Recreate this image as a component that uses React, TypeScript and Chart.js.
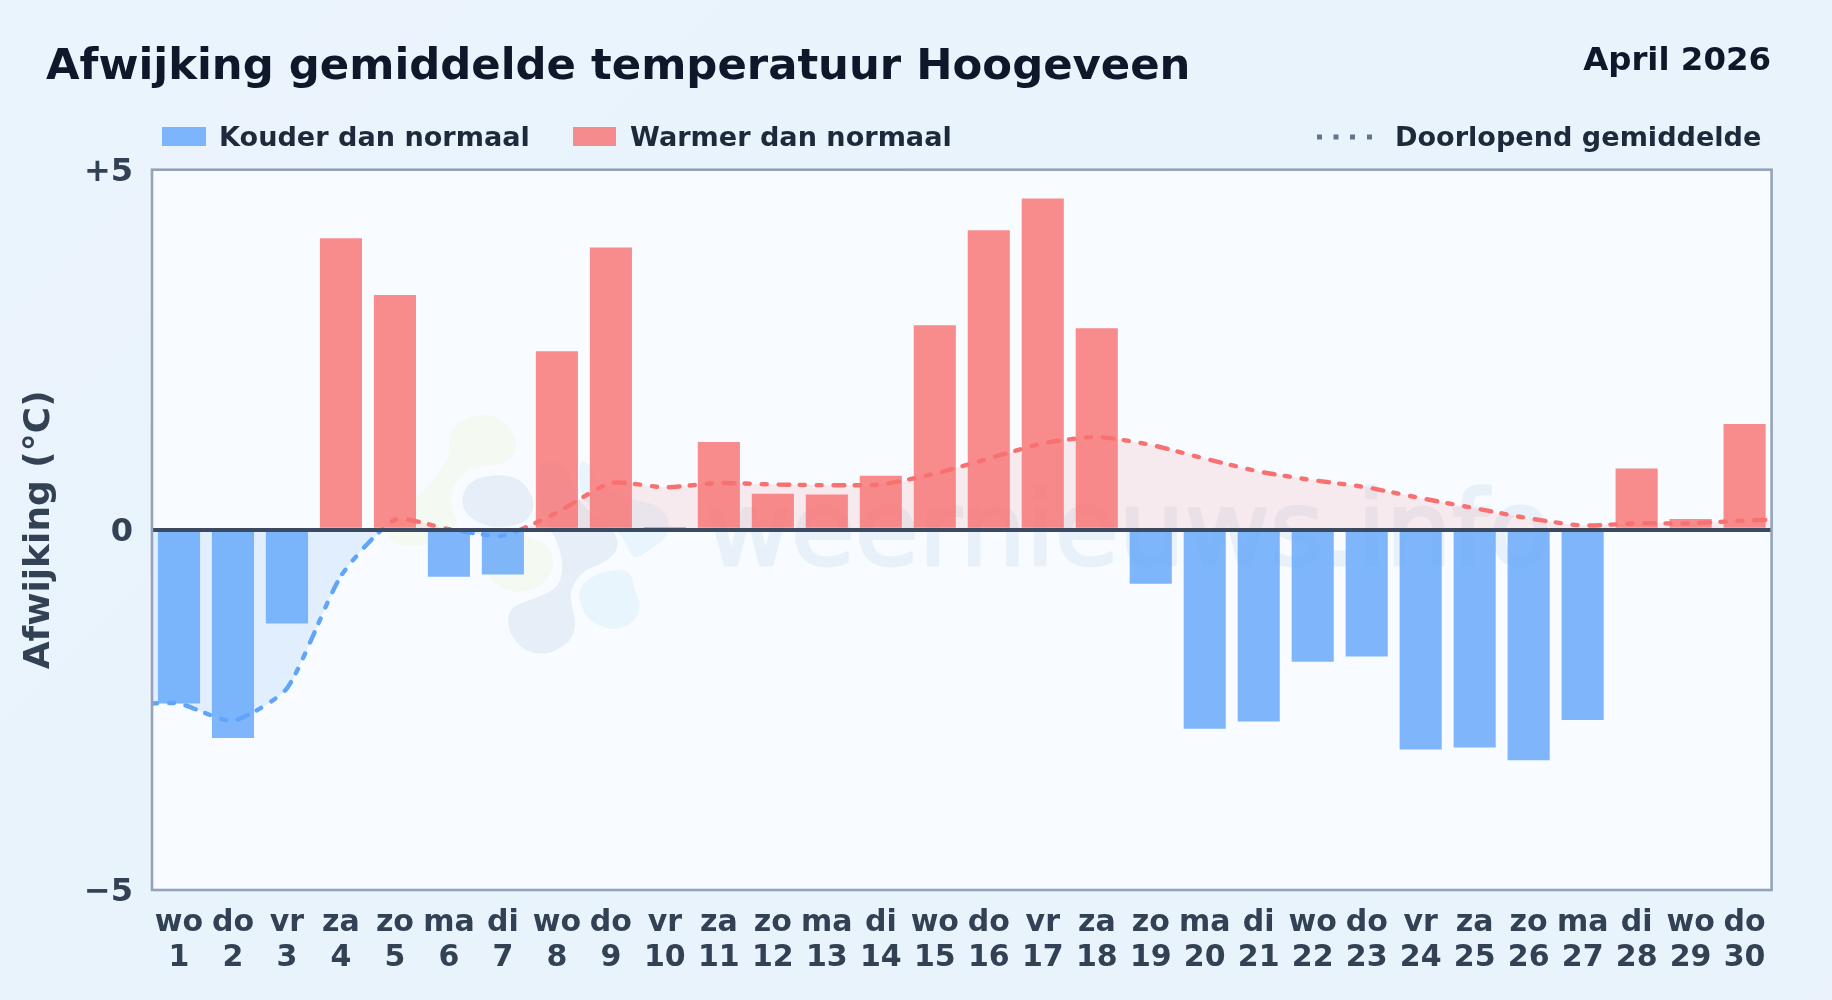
import React, { useEffect, useRef } from "react";
import { Chart, registerables } from "chart.js";

Chart.register(...registerables);

const DAYS = [1, 2, 3, 4, 5, 6, 7, 8, 9, 10, 11, 12, 13, 14, 15, 16, 17, 18, 19, 20, 21, 22, 23, 24, 25, 26, 27, 28, 29, 30];
const WEEKDAYS = ["wo", "do", "vr", "za", "zo", "ma", "di", "wo", "do", "vr", "za", "zo", "ma", "di", "wo", "do", "vr", "za", "zo", "ma", "di", "wo", "do", "vr", "za", "zo", "ma", "di", "wo", "do"];
const DEVIATION = [-2.41, -2.89, -1.3, 4.05, 3.26, -0.65, -0.62, 2.48, 3.92, 0.04, 1.22, 0.5, 0.49, 0.75, 2.84, 4.16, 4.6, 2.8, -0.75, -2.76, -2.66, -1.83, -1.76, -3.05, -3.02, -3.2, -2.64, 0.85, 0.15, 1.47];
const RUNNING_X = [0.5, 1, 2, 3, 4, 5, 6, 7, 8, 9, 10, 11, 12, 13, 14, 15, 16, 17, 18, 19, 20, 21, 22, 23, 24, 25, 26, 27, 28, 29, 30, 30.5];
const RUNNING_MEAN = [-2.41, -2.41, -2.65, -2.2, -0.64, 0.14, 0.01, -0.08, 0.24, 0.65, 0.59, 0.65, 0.63, 0.62, 0.63, 0.78, 0.99, 1.2, 1.29, 1.18, 0.99, 0.81, 0.69, 0.59, 0.44, 0.3, 0.16, 0.06, 0.09, 0.09, 0.13, 0.14];
const Y_TICKS = [-5, 0, 5];
const TITLE = "Afwijking gemiddelde temperatuur Hoogeveen";
const PERIOD = "April 2026";
const LEGEND_COLD = "Kouder dan normaal";
const LEGEND_WARM = "Warmer dan normaal";
const LEGEND_MEAN = "Doorlopend gemiddelde";
const Y_TITLE = "Afwijking (°C)";
const WATERMARK = "weernieuws.info";

const FONT = "'DejaVu Sans'";
const RED_BAR = "rgba(248,113,113,0.8)";
const BLUE_BAR = "rgba(96,165,250,0.8)";
const RED = "#F87171";
const BLUE = "#60A5FA";

const LOGO_BLOBS: [string, number[][]][] = [
  ["#F4F9F1", [[235, 90], [300, 45], [380, 45], [435, 100], [440, 160], [400, 195], [300, 200], [245, 260], [240, 320], [270, 370], [230, 395], [180, 435], [100, 440], [50, 420], [60, 370], [130, 300], [200, 230], [240, 170]]],
  ["#F4F9F1", [[440, 400], [530, 430], [555, 490], [530, 550], [460, 578], [400, 570], [350, 525], [330, 460], [380, 420]]],
  ["#E6EEF7", [[275, 290], [300, 240], [380, 222], [450, 235], [490, 290], [490, 340], [450, 375], [370, 385], [310, 360], [280, 330]]],
  ["#E9F5FD", [[625, 180], [660, 190], [690, 260], [780, 300], [860, 310], [900, 360], [895, 410], [840, 450], [790, 480], [770, 430], [740, 390], [680, 340], [630, 290]]],
  ["#E6EEF7", [[510, 180], [590, 190], [620, 300], [680, 350], [740, 400], [745, 450], [700, 490], [640, 510], [605, 560], [600, 600], [620, 670], [600, 730], [520, 768], [450, 745], [410, 680], [420, 620], [500, 595], [570, 560], [580, 490], [560, 420], [530, 370], [500, 290]]],
  ["#E9F5FD", [[625, 570], [660, 530], [740, 505], [785, 520], [790, 560], [815, 620], [790, 670], [730, 692], [670, 670], [635, 630]]],
];

function blob(ctx: CanvasRenderingContext2D, pts: number[][]) {
  const P = pts.map(([x, y]) => [370 + x / 3, 400 + y / 3]);
  const mid = (a: number[], b: number[]) => [(a[0] + b[0]) / 2, (a[1] + b[1]) / 2];
  const start = mid(P[P.length - 1], P[0]);
  ctx.beginPath();
  ctx.moveTo(start[0], start[1]);
  P.forEach((p, i) => {
    const m = mid(p, P[(i + 1) % P.length]);
    ctx.quadraticCurveTo(p[0], p[1], m[0], m[1]);
  });
  ctx.closePath();
  ctx.fill();
}

const backdrop = {
  id: "backdrop",
  beforeDraw(chart: any) {
    const { ctx, chartArea: a } = chart;
    ctx.save();
    ctx.fillStyle = "#F8FBFF";
    ctx.fillRect(a.left, a.top, a.right - a.left, a.bottom - a.top);
    LOGO_BLOBS.forEach(([color, pts]) => {
      ctx.fillStyle = color;
      blob(ctx, pts);
    });
    ctx.fillStyle = "#E8F0F9";
    ctx.strokeStyle = "#E8F0F9";
    ctx.lineWidth = 3;
    ctx.lineJoin = "round";
    ctx.font = `104px ${FONT}`;
    ctx.textAlign = "left";
    ctx.textBaseline = "alphabetic";
    ctx.strokeText(WATERMARK, 706, 565);
    ctx.fillText(WATERMARK, 706, 565);
    ctx.restore();
  },
};

const chrome = {
  id: "chrome",
  afterDraw(chart: any) {
    const { ctx, chartArea: a } = chart;
    ctx.save();
    ctx.strokeStyle = "#94A3B8";
    ctx.lineWidth = 2.6;
    ctx.strokeRect(a.left, a.top, a.right - a.left, a.bottom - a.top);

    ctx.textBaseline = "alphabetic";
    ctx.textAlign = "left";
    ctx.fillStyle = "#0F172A";
    ctx.font = `bold 43.35px ${FONT}`;
    ctx.fillText(TITLE, 46, 79);
    ctx.textAlign = "right";
    ctx.font = `bold 32.4px ${FONT}`;
    ctx.fillText(PERIOD, 1771, 70);

    ctx.textAlign = "left";
    ctx.font = `bold 27.1px ${FONT}`;
    ctx.fillStyle = BLUE_BAR;
    ctx.fillRect(162, 127, 44, 19);
    ctx.fillStyle = RED_BAR;
    ctx.fillRect(573, 127, 43, 19);
    ctx.fillStyle = "#64748B";
    [1317, 1333.5, 1350, 1367].forEach((x) => ctx.fillRect(x, 134.5, 5, 5));
    ctx.fillStyle = "#1E293B";
    ctx.fillText(LEGEND_COLD, 219, 146);
    ctx.fillText(LEGEND_WARM, 630, 146);
    ctx.fillText(LEGEND_MEAN, 1395, 146);
    ctx.restore();
  },
};

export default function App() {
  const ref = useRef<HTMLCanvasElement>(null);
  useEffect(() => {
    document.body.style.margin = "0";
    const chart = new Chart(ref.current as HTMLCanvasElement, {
      type: "bar",
      data: {
        datasets: [
          {
            type: "line",
            label: LEGEND_MEAN,
            order: 0,
            data: RUNNING_X.map((x, i) => ({ x, y: RUNNING_MEAN[i] })),
            borderColor: (c: any) => {
              const { chart: ch } = c;
              const { chartArea: a, scales } = ch;
              if (!a) return RED;
              const g = ch.ctx.createLinearGradient(0, a.top, 0, a.bottom);
              const s = (scales.y.getPixelForValue(0) - a.top) / (a.bottom - a.top);
              g.addColorStop(0, RED);
              g.addColorStop(s, RED);
              g.addColorStop(s, BLUE);
              g.addColorStop(1, BLUE);
              return g;
            },
            borderWidth: 4.4,
            borderDash: [5, 12, 5, 12, 11, 10],
            borderCapStyle: "round",
            tension: 0.2,
            pointRadius: 0,
            fill: { target: { value: 0 }, above: "rgba(248,113,113,0.12)", below: "rgba(96,165,250,0.15)" },
          },
          {
            type: "bar",
            label: "Afwijking",
            order: 1,
            data: DAYS.map((x, i) => ({ x, y: DEVIATION[i] })),
            backgroundColor: DEVIATION.map((v) => (v < 0 ? BLUE_BAR : RED_BAR)),
            barPercentage: 0.78,
            categoryPercentage: 1,
          },
        ] as any,
      },
      options: {
        animation: false,
        responsive: false,
        devicePixelRatio: 1,
        layout: { padding: { left: 0, right: 60.4, top: 169.7, bottom: 0 } },
        plugins: {
          legend: { display: false },
          tooltip: { enabled: false },
          filler: { drawTime: "beforeDatasetsDraw" },
        },
        scales: {
          x: {
            type: "linear",
            offset: false,
            min: 0.5,
            max: 30.5,
            afterBuildTicks: (s: any) => {
              s.ticks = DAYS.map((value) => ({ value }));
            },
            afterFit: (s: any) => {
              s.height = 110;
            },
            grid: { display: false },
            border: { display: false },
            ticks: {
              autoSkip: false,
              maxRotation: 0,
              minRotation: 0,
              padding: 8,
              color: "#334155",
              font: { family: FONT, size: 30, weight: "bold", lineHeight: 1.16 },
              callback: (v: any) => [WEEKDAYS[v - 1], String(v)],
            },
          },
          y: {
            min: -5,
            max: 5,
            afterBuildTicks: (s: any) => {
              s.ticks = Y_TICKS.map((value) => ({ value }));
            },
            afterFit: (s: any) => {
              s.width = 152;
            },
            title: {
              display: true,
              text: Y_TITLE,
              color: "#334155",
              font: { family: FONT, size: 36, weight: "bold" },
              padding: { top: 18, bottom: 0 },
            },
            border: { display: false },
            grid: {
              z: 1,
              drawTicks: false,
              lineWidth: (c: any) => (c.tick && c.tick.value === 0 ? 4 : 0),
              color: (c: any) => (c.tick && c.tick.value === 0 ? "#3B4A60" : "transparent"),
            },
            ticks: {
              padding: 19,
              labelOffset: 3,
              color: "#334155",
              font: { family: FONT, size: 32, weight: "bold" },
              callback: (v: any) => (v > 0 ? `+${v}` : v < 0 ? `\u2212${Math.abs(v)}` : "0"),
            },
          },
        },
      } as any,
      plugins: [backdrop, chrome],
    });
    return () => chart.destroy();
  }, []);
  return (
    <div style={{ width: 1832, height: 1000, background: "linear-gradient(135deg,#EBF4FD 0%,#E8F3FC 50%,#EAF3FC 100%)" }}>
      <canvas ref={ref} width={1832} height={1000} style={{ display: "block", width: 1832, height: 1000 }} />
    </div>
  );
}
